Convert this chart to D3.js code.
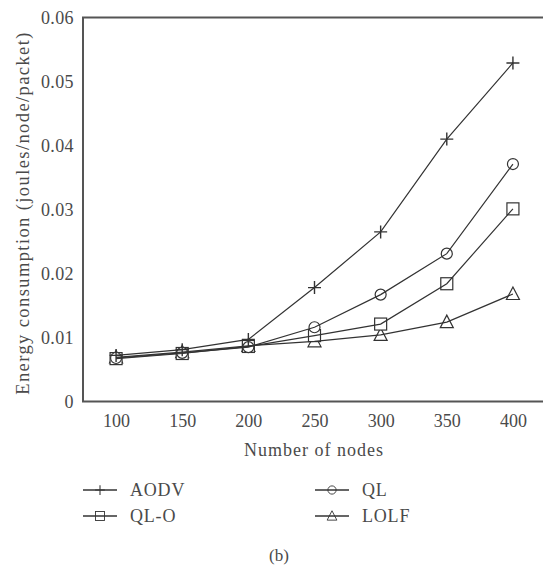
<!DOCTYPE html>
<html><head><meta charset="utf-8">
<script src="https://cdn.jsdelivr.net/npm/d3@7"></script>
<style>body{margin:0;background:#fff}svg{display:block}</style>
</head><body>
<script>
const nodes = [100, 150, 200, 250, 300, 350, 400];
const aodv = [0.0072, 0.0081, 0.0097, 0.0178, 0.0265, 0.0410, 0.0529];
const ql   = [0.0068, 0.0076, 0.0085, 0.0116, 0.0167, 0.0231, 0.0371];
const qlo  = [0.0067, 0.0075, 0.0086, 0.0103, 0.0121, 0.0184, 0.0301];
const lolf = [0.0069, 0.0077, 0.0087, 0.0094, 0.0104, 0.0124, 0.0168];
const yTicks = [0, 0.01, 0.02, 0.03, 0.04, 0.05, 0.06];
const yTickLabels = ["0", "0.01", "0.02", "0.03", "0.04", "0.05", "0.06"];
const seriesNames = ["AODV", "QL", "QL-O", "LOLF"];
const seriesShapes = ["plus", "circle", "square", "triangle"];

const W = 543, H = 566;
const svg = d3.select("body").append("svg").attr("width", W).attr("height", H);
const font = "'Liberation Serif', 'DejaVu Serif', serif";
const ink = "#333";
const txt = "#4a4a4a";

const x = d3.scaleLinear().domain([75, 425]).range([83, 546]);
const y = d3.scaleLinear().domain([0, 0.06]).range([401.5, 17.5]);

// frame (top, left, bottom; right side lies outside the picture)
svg.append("path")
  .attr("d", `M${x(425)},${y(0.06)}H${x(75)}V${y(0)}H${x(425)}`)
  .attr("stroke", "#555").attr("stroke-width", 2).attr("fill", "none");

// axes
const yAxis = svg.append("g").attr("transform", `translate(${x(75)},0)`)
  .call(d3.axisLeft(y).tickValues(yTicks).tickFormat((d, i) => yTickLabels[i]).tickSize(0).tickPadding(9));
yAxis.select(".domain").remove();
yAxis.selectAll("text").attr("font-family", font).attr("font-size", 18)
  .attr("letter-spacing", 0.4).attr("fill", txt);

const xAxis = svg.append("g").attr("transform", `translate(0,${y(0)})`)
  .call(d3.axisBottom(x).tickValues(nodes).tickFormat(d3.format("d")).tickSize(0).tickPadding(13));
xAxis.select(".domain").remove();
xAxis.selectAll("text").attr("font-family", font).attr("font-size", 18).attr("fill", txt);

svg.append("text").attr("x", 314).attr("y", 456).attr("text-anchor", "middle")
  .attr("font-family", font).attr("font-size", 18).attr("letter-spacing", 1)
  .attr("fill", txt).text("Number of nodes");
svg.append("text").attr("transform", "translate(29,213) rotate(-90)").attr("text-anchor", "middle")
  .attr("font-family", font).attr("font-size", 18.5).attr("letter-spacing", 1.4)
  .attr("fill", txt).text("Energy consumption (joules/node/packet)");

function marker(g, shape, cx, cy) {
  const s = g.append("g").attr("stroke", ink).attr("stroke-width", 1.2).attr("fill", "none");
  if (shape === "plus") {
    s.append("path").attr("d", `M${cx-6.5},${cy}H${cx+6.5}M${cx},${cy-6.5}V${cy+6.5}`).attr("stroke-width", 1.4);
  } else if (shape === "circle") {
    s.append("circle").attr("cx", cx).attr("cy", cy).attr("r", 5.5).attr("fill", "#fff");
  } else if (shape === "square") {
    s.append("rect").attr("x", cx-6).attr("y", cy-6).attr("width", 12).attr("height", 12).attr("fill", "#fff");
  } else {
    s.append("path").attr("d", `M${cx},${cy-7}L${cx+6.5},${cy+5.5}H${cx-6.5}Z`).attr("fill", "#fff");
  }
}

const allSeries = [aodv, ql, qlo, lolf];
const line = d3.line().x((d, i) => x(nodes[i])).y(d => y(d));

// markers (hollow, white-filled), then lines drawn over them so lines pass through
[lolf, qlo, ql, aodv].forEach(vals => {
  const k = allSeries.indexOf(vals);
  const g = svg.append("g");
  vals.forEach((v, i) => marker(g, seriesShapes[k], x(nodes[i]), y(v)));
});
allSeries.forEach(vals => {
  svg.append("path").datum(vals).attr("d", line).attr("fill", "none")
    .attr("stroke", ink).attr("stroke-width", 1.2);
});

// legend
const legendPos = [[83, 490], [315, 490], [83, 516], [315, 516]];
const legendOrder = [0, 1, 2, 3];
legendOrder.forEach((k, j) => {
  const [lx, ly] = legendPos[j];
  const m = svg.append("g")
    .attr("transform", `translate(${lx + 17},${ly}) scale(0.75) translate(${-(lx + 17)},${-ly})`);
  marker(m, seriesShapes[k], lx + 17, ly);
  svg.append("line").attr("x1", lx).attr("x2", lx + 34).attr("y1", ly).attr("y2", ly)
    .attr("stroke", ink).attr("stroke-width", 1.3);
  svg.append("text").attr("x", lx + 47).attr("y", ly + 6).attr("font-family", font)
    .attr("font-size", 18).attr("letter-spacing", 0.8).attr("fill", txt).text(seriesNames[k]);
});

svg.append("text").attr("x", 279).attr("y", 561).attr("text-anchor", "middle")
  .attr("font-family", font).attr("font-size", 17).attr("fill", txt).text("(b)");
</script>
</body></html>
